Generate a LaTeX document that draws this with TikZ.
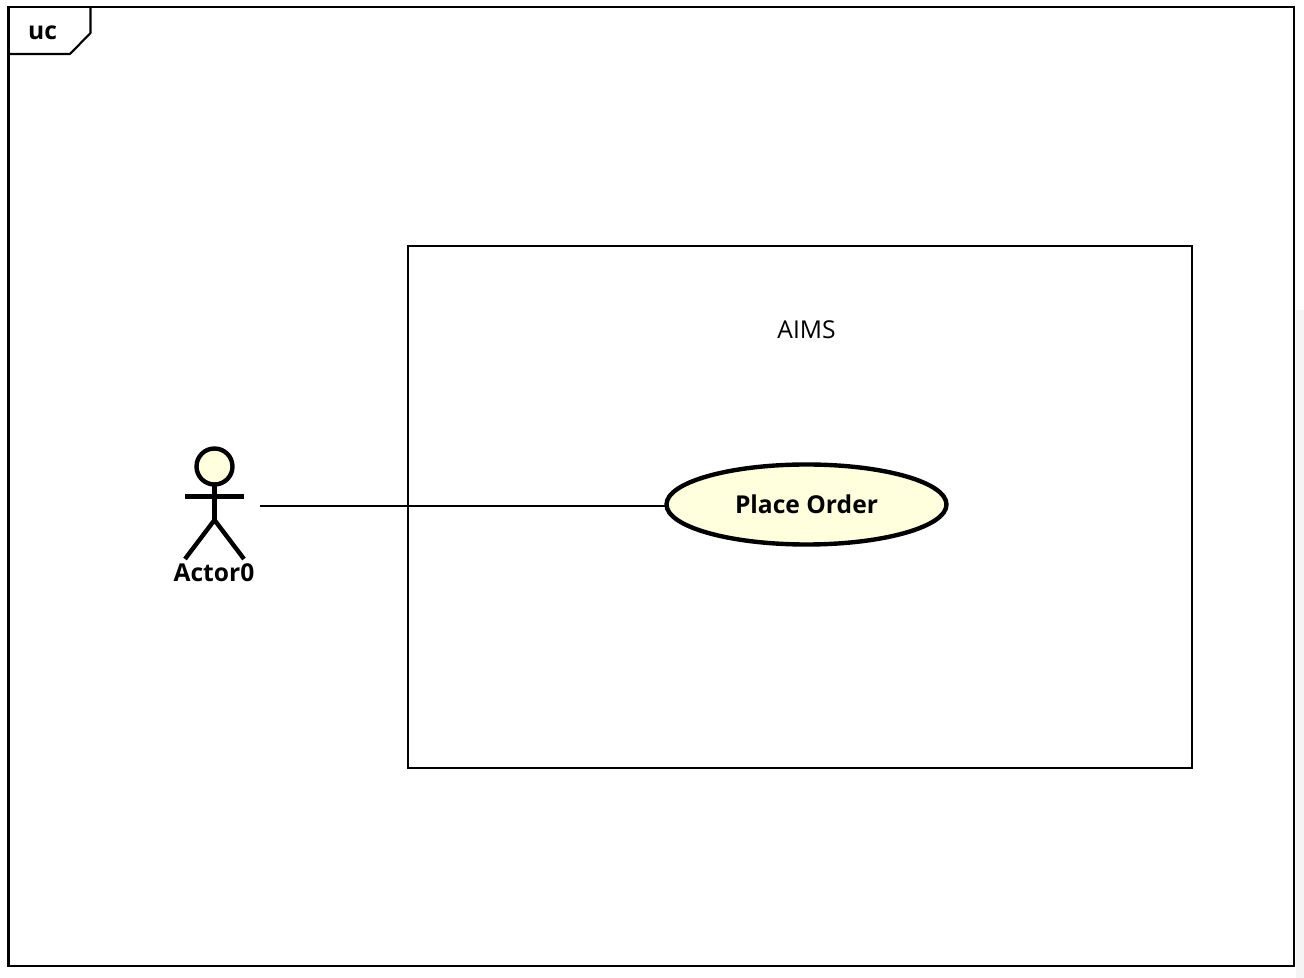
\documentclass[tikz,border=0pt]{standalone}
\usepackage{fontspec}
\setmainfont{Open Sans}
\usetikzlibrary{shapes.geometric}
\definecolor{ucfill}{RGB}{255,255,221}
\definecolor{edgegray}{RGB}{245,245,245}
\tikzset{
  thinline/.style={line width=0.6pt,black},
  stickline/.style={line width=1.25pt,black},
  boldlabel/.style={font=\fontsize{7.0}{9}\selectfont\bfseries,inner sep=0pt},
  plainlabel/.style={font=\fontsize{7.0}{9}\selectfont,inner sep=0pt}
}
\begin{document}
\begin{tikzpicture}
\useasboundingbox (0,0) rectangle (13.04,9.78);
\fill[edgegray] (12.96,0) rectangle (13.04,6.68);

% frame
\draw[thinline] (0.085,0.12) rectangle (12.94,9.71);
\draw[thinline] (0.085,9.24) -- (0.70,9.24) -- (0.905,9.45) -- (0.905,9.71);
\node[boldlabel] (frametag) at (0.425,9.45) {uc};

% system
\node[thinline,draw,minimum width=7.84cm,minimum height=5.22cm,inner sep=0pt] (aims) at (8.00,4.71) {};
\node[plainlabel] (aimslabel) at (8.065,6.48) {AIMS};

% use case
\node[ellipse,draw,stickline,fill=ucfill,minimum width=2.8cm,minimum height=0.8cm,inner sep=0pt,boldlabel] (placeorder) at (8.065,4.735) {Place Order};

% actor
\draw[stickline,fill=ucfill] (2.145,5.115) circle (0.18);
\draw[stickline] (2.145,4.935) -- (2.145,4.58);
\draw[stickline] (1.85,4.815) -- (2.44,4.815);
\draw[stickline] (1.85,4.19) -- (2.145,4.58) -- (2.44,4.19);
\node[boldlabel] (actor) at (2.14,4.05) {Actor0};

\coordinate (actorend) at (2.60,4.72);
\draw[thinline] (actorend) -- ([xshift=0.05cm]placeorder.west |- actorend);

\end{tikzpicture}
\end{document}
